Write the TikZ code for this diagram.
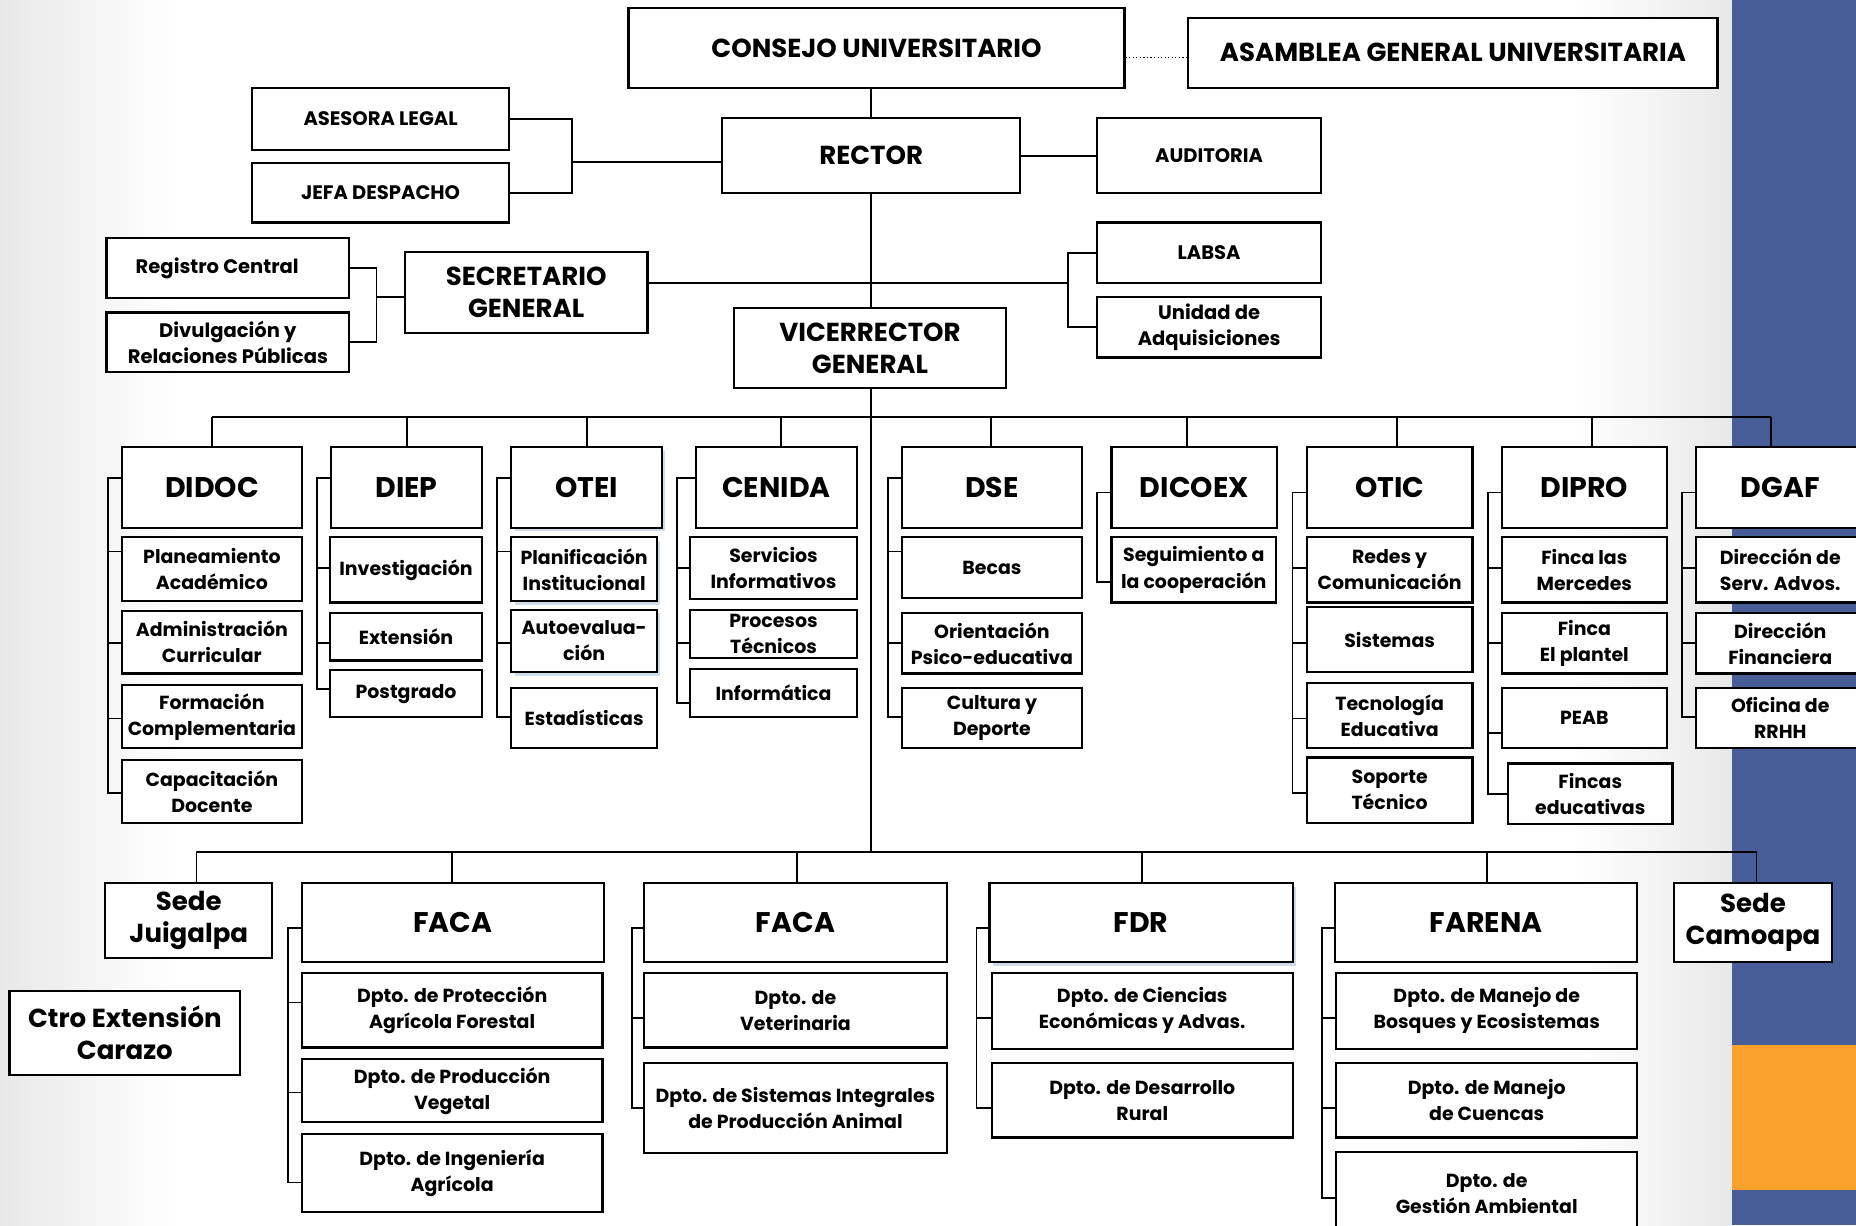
\documentclass[tikz,border=0pt]{standalone}
\usepackage{fontspec}
\setmainfont{Poppins}
\usetikzlibrary{calc,shadows}
\definecolor{slideblue}{HTML}{475E99}
\definecolor{slideorange}{HTML}{F9A12A}
\definecolor{shadowblue}{HTML}{CFDCEB}
\definecolor{bggrey}{HTML}{E8E8E8}
\tikzset{
  box/.style={draw=black, line width=1.8pt, fill=white, inner sep=0pt, align=center,
              font=\bfseries\fontsize{16}{22}\selectfont},
  conn/.style={line width=1.5pt, draw=black},
  bigtxt/.style={font=\bfseries\fontsize{24}{28}\selectfont},
  midtxt/.style={font=\bfseries\fontsize{22}{27}\selectfont},
  mid2txt/.style={font=\bfseries\fontsize{22}{27}\selectfont},
  smalltxt/.style={font=\bfseries\fontsize{16.5}{22}\selectfont},
  glow/.style={drop shadow={fill=shadowblue, shadow xshift=3pt, shadow yshift=-3pt, opacity=1}}
}
% #1 style, #2 name, #3 x1, #4 y1, #5 x2, #6 y2, #7 text
\newcommand\mybox[7][]{\node[box,#1,minimum width={#5pt-#3pt},minimum height={#6pt-#4pt}] (#2) at ({(#3+#5)/2},{(#4+#6)/2}) {#7};}

\begin{document}
\begin{tikzpicture}[x=1pt,y=-1pt]
\useasboundingbox (0,0) rectangle (1568,1035);
\clip (0,0) rectangle (1568,1035);
% background
\fill[white] (0,0) rectangle (1568,1035);
\shade[left color=bggrey, right color=white] (0,0) rectangle (150,1035);
\shade[left color=white, right color=bggrey] (1330,0) rectangle (1463,1035);
\fill[slideblue] (1463,0) rectangle (1568,1035);
\fill[slideorange] (1463,883) rectangle (1568,1005);

% ---------- top ----------
\mybox[midtxt]{consejo}{531}{7}{950}{74}{CONSEJO UNIVERSITARIO}
\mybox[midtxt]{asamblea}{1004}{15}{1451}{74}{ASAMBLEA GENERAL UNIVERSITARIA}
\mybox[midtxt]{rector}{610}{100}{862}{163}{RECTOR}
\mybox[smalltxt]{asesora}{213}{74}{430}{127}{ASESORA LEGAL}
\mybox[smalltxt]{jefa}{213}{138}{430}{188}{JEFA DESPACHO}
\mybox[smalltxt]{auditoria}{927}{100}{1116}{163}{AUDITORIA}
\mybox[mid2txt]{secretario}{342}{213}{547}{281}{SECRETARIO\\GENERAL}
\mybox[mid2txt]{vice}{620}{260}{850}{328}{VICERRECTOR\\GENERAL}
\mybox[smalltxt]{labsa}{927}{188}{1116}{239}{LABSA}
\mybox[smalltxt]{unidad}{927}{251}{1116}{302}{Unidad de\\Adquisiciones}
\mybox[smalltxt]{registro}{90}{201}{295}{252}{Registro Central\hspace*{18pt}}
\mybox[smalltxt]{divul}{90}{264}{295}{314}{Divulgación y\\Relaciones Públicas}

% ---------- middle headers ----------
\mybox[bigtxt]{didoc}{103}{378}{255}{446}{DIDOC}
\mybox[bigtxt]{diep}{280}{378}{407}{446}{DIEP}
\mybox[bigtxt,glow]{otei}{432}{378}{559}{446}{OTEI}
\mybox[bigtxt]{cenida}{588}{378}{724}{446}{CENIDA}
\mybox[bigtxt]{dse}{762}{378}{914}{446}{DSE}
\mybox[bigtxt]{dicoex}{939}{378}{1079}{446}{DICOEX}
\mybox[bigtxt]{otic}{1104}{378}{1244}{446}{OTIC}
\mybox[bigtxt]{dipro}{1269}{378}{1408}{446}{DIPRO}
\mybox[bigtxt]{dgaf}{1433}{378}{1575}{446}{DGAF}

% DIDOC
\mybox{plan}{103}{454}{255}{508}{Planeamiento\\Académico}
\mybox{admin}{103}{516}{255}{569}{Administración\\Curricular}
\mybox{form}{103}{579}{255}{632}{Formación\\Complementaria}
\mybox{capac}{103}{642}{255}{695}{Capacitación\\Docente}
% DIEP
\mybox{inv}{279}{454}{407}{509}{Investigación}
\mybox{ext}{279}{518}{407}{558}{Extensión}
\mybox{post}{279}{566}{407}{606}{Postgrado}
% OTEI
\mybox[glow]{planif}{432}{454}{555}{508}{Planificación\\Institucional}
\mybox[glow]{auto}{432}{515}{555}{568}{Autoevalua-\\ción}
\mybox{estad}{432}{581}{555}{632}{Estadísticas}
% CENIDA
\mybox{serv}{583}{454}{724}{506}{Servicios\\Informativos}
\mybox{proc}{583}{515}{724}{556}{Procesos\\Técnicos}
\mybox{info}{583}{565}{724}{606}{Informática}
% DSE
\mybox{becas}{762}{454}{914}{505}{Becas}
\mybox{orient}{762}{518}{914}{569}{Orientación\\Psico-educativa}
\mybox{cult}{762}{581}{914}{632}{Cultura y\\Deporte}
% DICOEX
\mybox{segu}{939}{454}{1078}{509}{Seguimiento a\\la cooperación}
% OTIC
\mybox{redes}{1104}{454}{1244}{509}{Redes y\\Comunicación}
\mybox{sist}{1104}{513}{1244}{568}{Sistemas}
\mybox{tecno}{1104}{577}{1244}{632}{Tecnología\\Educativa}
\mybox{soporte}{1104}{640}{1244}{695}{Soporte\\Técnico}
% DIPRO
\mybox{merc}{1269}{454}{1408}{509}{Finca las\\Mercedes}
\mybox{plant}{1269}{518}{1408}{569}{Finca\\El plantel}
\mybox{peab}{1269}{581}{1408}{632}{PEAB}
\mybox{fincas}{1274}{645}{1413}{696}{Fincas\\educativas}
% DGAF
\mybox{servad}{1433}{454}{1575}{509}{Dirección de\\Serv. Advos.}
\mybox{finan}{1433}{518}{1575}{569}{Dirección\\Financiera}
\mybox{rrhh}{1433}{581}{1575}{632}{Oficina de\\RRHH}

% ---------- bottom ----------
\mybox[mid2txt]{juigalpa}{89}{746}{230}{809}{Sede\\Juigalpa}
\mybox[mid2txt]{carazo}{8}{837}{203}{908}{Ctro Extensión\\Carazo}
\mybox[bigtxt]{faca1}{255}{746}{510}{813}{FACA}
\mybox{prot}{255}{822}{509}{885}{Dpto. de Protección\\Agrícola Forestal}
\mybox{veg}{255}{895}{509}{948}{Dpto. de Producción\\Vegetal}
\mybox{ing}{255}{958}{509}{1024}{Dpto. de Ingeniería\\Agrícola}
\mybox[bigtxt]{faca2}{544}{746}{800}{813}{FACA}
\mybox{vet}{544}{822}{800}{885}{Dpto. de\\Veterinaria}
\mybox{sistint}{544}{898}{800}{974}{Dpto. de Sistemas Integrales\\de Producción Animal}
\mybox[bigtxt,glow]{fdr}{836}{746}{1092}{813}{FDR}
\mybox{cien}{838}{822}{1092}{886}{Dpto. de Ciencias\\Económicas y Advas.}
\mybox{rural}{838}{898}{1092}{961}{Dpto. de Desarrollo\\Rural}
\mybox[bigtxt]{farena}{1128}{746}{1383}{813}{FARENA}
\mybox{bosq}{1129}{822}{1383}{886}{Dpto. de Manejo de\\Bosques y Ecosistemas}
\mybox{cuen}{1129}{898}{1383}{961}{Dpto. de Manejo\\de Cuencas}
\mybox{gest}{1129}{973}{1383}{1043}{Dpto. de\\Gestión Ambiental}
\mybox[mid2txt]{camoapa}{1414}{746}{1548}{813}{Sede\\Camoapa}

% ---------- connectors: top ----------
\draw[conn] (rector.north |- consejo.south) -- (rector.north);
\coordinate (dl) at ([yshift=-8pt]consejo.east);
\draw[line width=1pt, dotted] (dl) -- (asamblea.west |- dl);
\coordinate (b1) at (483,137);
\draw[conn] (asesora.east) -| (b1 |- jefa.east) -- (jefa.east);
\draw[conn] (b1) -- (b1 -| rector.west);
\draw[conn] (rector.east) -- (auditoria.west);
\draw[conn] (rector.south) -- (rector.south |- vice.north);
\coordinate (br2) at (902,239);
\draw[conn] (br2 -| secretario.east) -- (br2);
\draw[conn] (labsa.west) -| (br2 |- unidad.west) -- (unidad.west);
\coordinate (br3) at (318,251);
\draw[conn] (registro.east) -| (br3 |- divul.east) -- (divul.east);
\draw[conn] (br3) -- (br3 -| secretario.west);
% trunk
\coordinate (bus2) at (736,720);
\draw[conn] (vice.south -| bus2) -- (bus2);

% ---------- middle bus ----------
\draw[conn] (179,352) -- (1496,352);
\foreach \n/\x in {didoc/179, diep/344, otei/496, cenida/660, dse/837, dicoex/1003, otic/1180, dipro/1345, dgaf/1496}
  \draw[conn] (\x,352) -- (\n.north -| \x,0);

% column brackets (vertical spines)
\draw[conn] (didoc.west |- 0,404) -| (91,670) -- (capac.west |- 0,670);
\draw[conn] (diep.west |- 0,404) -| (268,582) -- (post.west |- 0,582);
\draw[conn] (otei.west |- 0,404) -| (420,606) -- (estad.west |- 0,606);
\draw[conn] (cenida.west |- 0,404) -| (572,594) -- (info.west |- 0,594);
\draw[conn] (dse.west |- 0,404) -| (750,606) -- (cult.west |- 0,606);
\draw[conn] (dicoex.west |- 0,416) -| (927,492) -- (segu.west |- 0,492);
\draw[conn] (otic.west |- 0,416) -| (1092,670) -- (soporte.west |- 0,670);
\draw[conn] (dipro.west |- 0,416) -| (1257,671) -- (fincas.west |- 0,671);
\draw[conn] (dgaf.west |- 0,416) -| (1421,606) -- (rrhh.west |- 0,606);
\foreach \n/\x/\y in {plan/91/466, admin/91/543, form/91/607,
    inv/268/480, ext/268/543,
    planif/420/466, auto/420/543,
    serv/572/480, proc/572/543,
    becas/750/466, orient/750/543,
    redes/1092/480, sist/1092/543, tecno/1092/607,
    merc/1257/480, plant/1257/543, peab/1257/619,
    servad/1421/480, finan/1421/543}
  \draw[conn] (\x,\y) -- (\n.west |- 0,\y);

% ---------- bottom bus ----------
\draw[conn] (166,720) -- (1484,720);
\foreach \n/\x in {juigalpa/166, faca1/382, faca2/673, fdr/965, farena/1256, camoapa/1484}
  \draw[conn] (\x,720) -- (\n.north -| \x,0);
\draw[conn] (faca1.west |- 0,784) -| (243,999) -- (ing.west |- 0,999);
\draw[conn] (faca2.west |- 0,784) -| (534,936) -- (sistint.west |- 0,936);
\draw[conn] (fdr.west |- 0,784) -| (825,936) -- (rural.west |- 0,936);
\draw[conn] (farena.west |- 0,784) -| (1117,1012) -- (gest.west |- 0,1012);
\foreach \n/\x/\y in {prot/243/847, veg/243/923, vet/534/860, cien/825/860, bosq/1117/860, cuen/1117/936}
  \draw[conn] (\x,\y) -- (\n.west |- 0,\y);
\end{tikzpicture}
\end{document}
